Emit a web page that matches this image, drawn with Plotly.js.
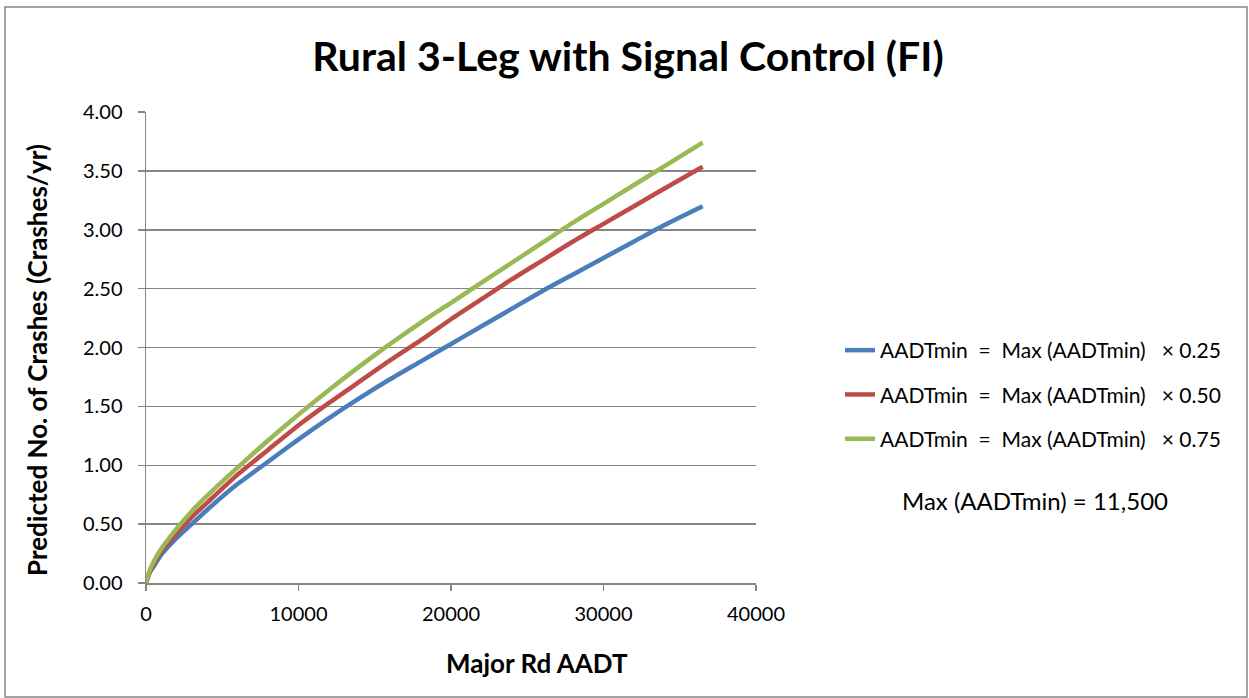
<!DOCTYPE html>
<html>
<head>
<meta charset="utf-8">
<script src="https://cdn.plot.ly/plotly-3.0.1.min.js"></script>
<style>html,body{margin:0;padding:0;background:#fff;}#chart{width:1249px;height:698px;}</style>
</head>
<body>
<div id="chart"></div>
<script>
// Data
const majorAADT = [0, 250, 500, 1000, 2000, 3000, 4000, 6000, 8000, 10000, 12000, 14000, 16000, 18000, 20000, 22000, 24000, 26000, 28000, 30000, 32000, 34000, 36500];
const crashes025 = [0, 0.09, 0.14, 0.24, 0.38, 0.50, 0.62, 0.84, 1.03, 1.22, 1.40, 1.57, 1.73, 1.88, 2.03, 2.18, 2.33, 2.48, 2.62, 2.76, 2.90, 3.04, 3.20];
const crashes050 = [0, 0.10, 0.16, 0.27, 0.42, 0.56, 0.68, 0.92, 1.13, 1.34, 1.53, 1.71, 1.89, 2.06, 2.24, 2.41, 2.58, 2.74, 2.90, 3.05, 3.20, 3.35, 3.535];
const crashes075 = [0, 0.11, 0.18, 0.29, 0.46, 0.61, 0.74, 0.98, 1.21, 1.43, 1.64, 1.84, 2.03, 2.21, 2.38, 2.55, 2.72, 2.89, 3.06, 3.22, 3.38, 3.54, 3.74];
const seriesNames = [
  "AADTmin  =  Max (AADTmin)   \u00d7 0.25",
  "AADTmin  =  Max (AADTmin)   \u00d7 0.50",
  "AADTmin  =  Max (AADTmin)   \u00d7 0.75"
];
const seriesColors = ["#4A7EBB", "#BE4B48", "#98B954"];
const yTickVals = [0, 0.5, 1, 1.5, 2, 2.5, 3, 3.5, 4];
const xTickVals = [0, 10000, 20000, 30000, 40000];

const FONT = "Lato, 'Open Sans', sans-serif";
const ys = [crashes025, crashes050, crashes075];
const traces = ys.map((y, i) => ({
  x: majorAADT, y: y, type: "scatter", mode: "lines",
  name: seriesNames[i], legendgroup: "g" + i,
  line: {color: seriesColors[i], width: 4.5, shape: "spline", smoothing: 0.6}
}));

const plotL = 146, plotR = 756, plotT = 112, plotB = 583;
const pw = plotR - plotL, ph = plotB - plotT;
const px = v => (v - plotL) / pw;
const py = v => (plotB - v) / ph;

const layout = {
  width: 1249, height: 698,
  margin: {l: plotL, r: 1249 - plotR, t: plotT, b: 698 - plotB, pad: 0},
  paper_bgcolor: "#ffffff", plot_bgcolor: "#ffffff",
  font: {family: FONT, color: "#000000", size: 20},
  title: {text: "Rural 3-Leg with Signal Control (FI)", font: {family: FONT, size: 41, color: "#000", weight: "bold"},
    x: 628 / 1249, xanchor: "center", y: 1 - 57 / 698, yanchor: "middle", xref: "container", yref: "container"},
  xaxis: {range: [0, 40000], tickvals: xTickVals, ticktext: xTickVals.map(String),
    showgrid: false, zeroline: false, showline: true, linecolor: "#868686", linewidth: 1.5,
    ticks: "outside", ticklen: 6, tickcolor: "#868686", tickwidth: 1.5, ticklabelstandoff: 6,
    tickfont: {family: FONT, size: 20, color: "#000"}, fixedrange: true},
  yaxis: {range: [0, 4], tickvals: yTickVals, tickformat: ".2f",
    showgrid: true, gridcolor: "#868686", gridwidth: 1.5, zeroline: false,
    showline: true, linecolor: "#868686", linewidth: 1.5,
    ticks: "outside", ticklen: 7, tickcolor: "#868686", tickwidth: 1.5, ticklabelstandoff: 11,
    tickfont: {family: FONT, size: 20, color: "#000"}, fixedrange: true},
  showlegend: true,
  legend: {x: px(840), y: py(330), xanchor: "left", yanchor: "top",
    font: {family: FONT, size: 21, color: "#000"}, tracegroupgap: 14,
    traceorder: "grouped", bgcolor: "rgba(0,0,0,0)", borderwidth: 0},
  annotations: [
    {text: "Predicted No. of Crashes (Crashes/yr)", textangle: -90, xref: "paper", yref: "paper",
      x: px(37), y: py(360), xanchor: "center", yanchor: "middle", showarrow: false,
      font: {family: FONT, size: 26, color: "#000", weight: "bold"}},
    {text: "Major Rd AADT", xref: "paper", yref: "paper", x: px(537), y: py(663),
      xanchor: "center", yanchor: "middle", showarrow: false,
      font: {family: FONT, size: 26, color: "#000", weight: "bold"}},
    {text: "Max (AADTmin) = 11,500", xref: "paper", yref: "paper", x: px(1035), y: py(500),
      xanchor: "center", yanchor: "middle", showarrow: false,
      font: {family: FONT, size: 24, color: "#000"}}
  ],
  shapes: [
    {type: "rect", xref: "paper", yref: "paper", x0: px(5), x1: px(1247), y0: py(697), y1: py(7),
      line: {color: "#868686", width: 1.5}, fillcolor: "rgba(0,0,0,0)", layer: "below"}
  ]
};

Plotly.newPlot("chart", traces, layout, {staticPlot: true, displayModeBar: false});
</script>
</body>
</html>
